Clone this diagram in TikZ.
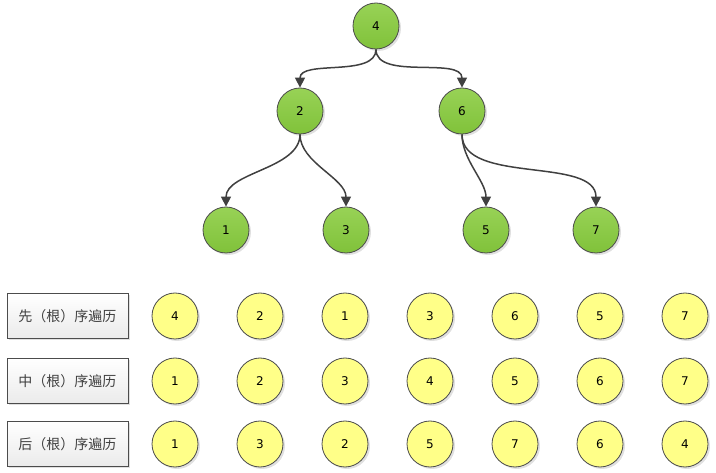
\documentclass[tikz,border=0pt]{standalone}
\usepackage{fontspec}
\setmainfont{DejaVu Sans}
\newfontfamily\cjk{Noto Sans CJK SC}
\usetikzlibrary{arrows.meta,shadows}
\definecolor{greentop}{RGB}{152,210,86}
\definecolor{greenbot}{RGB}{128,194,58}
\definecolor{yellowfill}{RGB}{255,255,136}
\definecolor{edgegray}{RGB}{64,64,64}
\begin{document}
\begin{tikzpicture}[x=1pt,y=1pt,font=\fontsize{12}{14}\selectfont,
 softshadow/.style={drop shadow={shadow xshift=2pt,shadow yshift=-2pt,fill=black,opacity=.12}},
 treenode/.style={circle,draw=black!70,line width=0.8pt,minimum size=46pt,inner sep=0pt,
   top color=greentop,bottom color=greenbot,softshadow},
 seqnode/.style={circle,draw=black!70,line width=0.8pt,minimum size=46pt,inner sep=0pt,
   fill=yellowfill,softshadow},
 labbox/.style={rectangle,draw=black!70,line width=0.8pt,minimum width=121pt,minimum height=45pt,
   top color=white,bottom color=black!8,softshadow,text=black!75,
   font=\cjk\fontsize{14}{16}\selectfont},
 edge/.style={draw=edgegray,line width=1.5pt,looseness=0.85,-{Triangle[length=10pt,width=10pt]}}]
\useasboundingbox (0,0) rectangle (716,-473);
% tree
\node[treenode] (n4) at (376,-26) {4};
\node[treenode] (n2) at (300,-111) {2};
\node[treenode] (n6) at (462,-111) {6};
\node[treenode] (n1) at (226,-230) {1};
\node[treenode] (n3) at (346,-230) {3};
\node[treenode] (n5) at (486,-230) {5};
\node[treenode] (n7) at (596,-230) {7};
\draw[edge] (n4.south) to[out=-90,in=90] (n2.north);
\draw[edge] (n4.south) to[out=-90,in=90] (n6.north);
\draw[edge] (n2.south) to[out=-90,in=90] (n1.north);
\draw[edge] (n2.south) to[out=-90,in=90] (n3.north);
\draw[edge] (n6.south) to[out=-90,in=90] (n5.north);
\draw[edge] (n6.south) to[out=-90,in=90] (n7.north);
% traversal rows
\foreach \row/\y/\lab/\seq in {%
 1/-316/先（根）序遍历/{4,2,1,3,6,5,7},
 2/-381/中（根）序遍历/{1,2,3,4,5,6,7},
 3/-444/后（根）序遍历/{1,3,2,5,7,6,4}}
{
 \node[labbox] (lab\row) at (67.5,\y) {\lab};
 \foreach \v [count=\i] in \seq
  \node[seqnode] (r\row c\i) at (90+85*\i,\y) {\v};
}
\end{tikzpicture}
\end{document}
